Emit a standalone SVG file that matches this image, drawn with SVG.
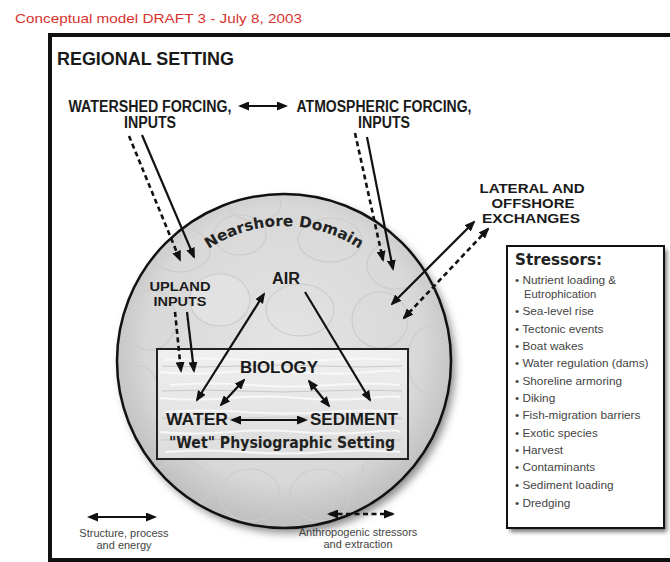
<svg xmlns="http://www.w3.org/2000/svg" width="670" height="562" viewBox="0 0 670 562">
<defs>
<style>
.lbl{font-family:"Liberation Sans",Arial,sans-serif;font-weight:bold;fill:#1a1a1a}
.sm{font-family:"Liberation Sans",Arial,sans-serif;font-size:11px;fill:#444}
.st{font-family:"Liberation Sans",Arial,sans-serif;font-size:11.8px;fill:#444}
.comic{font-family:"DejaVu Sans","Liberation Sans",sans-serif;font-weight:bold;fill:#222}
.ln{stroke:#111;stroke-width:2.2;fill:none}
.dash{stroke:#111;stroke-width:2.6;fill:none;stroke-dasharray:5 3.5}
</style>
<marker id="ah" viewBox="0 0 11 9" refX="9" refY="4.5" markerWidth="11" markerHeight="9" markerUnits="userSpaceOnUse" orient="auto-start-reverse">
<path d="M0,0 L11,4.5 L0,9 z" fill="#111"/>
</marker>
<radialGradient id="stone" cx="50%" cy="45%" r="55%">
<stop offset="0" stop-color="#e4e4e4"/>
<stop offset="0.75" stop-color="#d8d8d8"/>
<stop offset="1" stop-color="#bdbdbd"/>
</radialGradient>
<linearGradient id="wat" x1="0" y1="0" x2="0" y2="1">
<stop offset="0" stop-color="#f0f0f0"/>
<stop offset="1" stop-color="#dcdcdc"/>
</linearGradient>
<filter id="sh" x="-20%" y="-20%" width="140%" height="140%">
<feGaussianBlur stdDeviation="4"/>
</filter>
<filter id="sh2" x="-10%" y="-10%" width="130%" height="130%">
<feGaussianBlur stdDeviation="2"/>
</filter>
<clipPath id="cc"><circle cx="284" cy="361" r="167"/></clipPath>
<path id="arc" d="M 149,361 A 135,135 0 0 1 419,361"/>
</defs>

<rect width="670" height="562" fill="#fff"/>

<text x="15" y="23" font-family="Liberation Sans,Arial,sans-serif" font-size="13" fill="#d8322e" textLength="287" lengthAdjust="spacingAndGlyphs">Conceptual model DRAFT 3  -  July 8, 2003</text>

<g id="frame">
<rect x="50" y="35" width="640" height="525" fill="none" stroke="#111" stroke-width="4"/>
<text class="lbl" x="57" y="65" font-size="19" textLength="177" lengthAdjust="spacingAndGlyphs">REGIONAL SETTING</text>
</g>

<g id="nearshore">
<circle cx="288" cy="366" r="167" fill="#888" filter="url(#sh)"/>
<circle cx="284" cy="361" r="167" fill="url(#stone)"/>
<g clip-path="url(#cc)" fill="none" stroke="#cbcbcb" stroke-width="1.2">
<ellipse cx="180" cy="250" rx="30" ry="22"/>
<ellipse cx="240" cy="235" rx="26" ry="20"/>
<ellipse cx="330" cy="240" rx="32" ry="22"/>
<ellipse cx="395" cy="265" rx="28" ry="24"/>
<ellipse cx="150" cy="320" rx="26" ry="30"/>
<ellipse cx="220" cy="300" rx="30" ry="26" fill="#e2e2e2"/>
<ellipse cx="300" cy="310" rx="34" ry="26"/>
<ellipse cx="380" cy="320" rx="28" ry="28"/>
<ellipse cx="430" cy="360" rx="22" ry="34"/>
<ellipse cx="140" cy="400" rx="20" ry="34"/>
<ellipse cx="180" cy="485" rx="30" ry="24"/>
<ellipse cx="250" cy="495" rx="30" ry="26"/>
<ellipse cx="320" cy="495" rx="30" ry="26"/>
<ellipse cx="390" cy="475" rx="28" ry="26"/>
<ellipse cx="255" cy="205" rx="26" ry="16"/>
</g>
<circle cx="284" cy="361" r="167" fill="none" stroke="#111" stroke-width="2.5"/>
<text class="comic" font-size="15"><textPath href="#arc" startOffset="50%" text-anchor="middle" textLength="160" lengthAdjust="spacingAndGlyphs">Nearshore Domain</textPath></text>
<text class="lbl" x="180" y="291" font-size="12.5" text-anchor="middle" fill="#333" textLength="61" lengthAdjust="spacingAndGlyphs">UPLAND</text>
<text class="lbl" x="180" y="306" font-size="12.5" text-anchor="middle" fill="#333" textLength="53" lengthAdjust="spacingAndGlyphs">INPUTS</text>
</g>

<g id="wet">
<rect x="157" y="349" width="251" height="110" fill="url(#wat)" stroke="#222" stroke-width="2"/>
<g stroke="#fafafa" stroke-width="2" fill="none" opacity="0.9">
<path d="M165 360 q40 -3 80 0 t80 0 t75 0"/>
<path d="M160 372 q35 3 70 0 t70 0 t70 0 t28 0"/>
<path d="M170 385 q40 -3 80 0 t80 0 t70 0"/>
<path d="M160 398 q35 3 70 0 t70 0 t70 0 t28 0"/>
<path d="M165 412 q40 -3 80 0 t80 0 t75 0"/>
<path d="M160 432 q35 3 70 0 t70 0 t70 0 t28 0"/>
<path d="M165 452 q40 -3 80 0 t80 0 t75 0"/>
</g>
<g stroke="#c8c8c8" stroke-width="1" fill="none">
<path d="M162 366 q40 2 80 0 t80 0 t80 0"/>
<path d="M162 391 q40 -2 80 0 t80 0 t80 0"/>
<path d="M162 418 q40 2 80 0 t80 0 t80 0"/>
<path d="M162 440 q40 -2 80 0 t80 0 t80 0"/>
</g>
<text class="comic" x="282" y="448" font-size="15" text-anchor="middle" textLength="226" lengthAdjust="spacingAndGlyphs">"Wet" Physiographic Setting</text>
</g>

<g id="air"><text class="lbl" x="286" y="284" font-size="16" text-anchor="middle" textLength="28" lengthAdjust="spacingAndGlyphs">AIR</text></g>
<g id="biology"><text class="lbl" x="279" y="373" font-size="17" text-anchor="middle" textLength="78" lengthAdjust="spacingAndGlyphs">BIOLOGY</text></g>
<g id="water"><text class="lbl" x="197" y="425" font-size="17" text-anchor="middle" textLength="62" lengthAdjust="spacingAndGlyphs">WATER</text></g>
<g id="sediment"><text class="lbl" x="354" y="425" font-size="17" text-anchor="middle" textLength="88" lengthAdjust="spacingAndGlyphs">SEDIMENT</text></g>

<g id="watershed">
<text class="lbl" x="150" y="112" font-size="16" text-anchor="middle" textLength="163" lengthAdjust="spacingAndGlyphs">WATERSHED FORCING,</text>
<text class="lbl" x="150" y="128" font-size="16" text-anchor="middle" textLength="52" lengthAdjust="spacingAndGlyphs">INPUTS</text>
</g>
<g id="atmospheric">
<text class="lbl" x="384" y="112" font-size="16" text-anchor="middle" textLength="175" lengthAdjust="spacingAndGlyphs">ATMOSPHERIC FORCING,</text>
<text class="lbl" x="384" y="128" font-size="16" text-anchor="middle" textLength="52" lengthAdjust="spacingAndGlyphs">INPUTS</text>
</g>
<g id="lateral">
<text class="lbl" x="532" y="193" font-size="13.5" text-anchor="middle" textLength="105" lengthAdjust="spacingAndGlyphs">LATERAL AND</text>
<text class="lbl" x="533" y="208" font-size="13.5" text-anchor="middle" textLength="83" lengthAdjust="spacingAndGlyphs">OFFSHORE</text>
<text class="lbl" x="531" y="223" font-size="13.5" text-anchor="middle" textLength="98" lengthAdjust="spacingAndGlyphs">EXCHANGES</text>
</g>

<g id="stressors">
<rect x="510" y="250" width="157" height="282" fill="#777" filter="url(#sh2)"/>
<rect x="507" y="246" width="157" height="282" fill="#fff" stroke="#111" stroke-width="2"/>
<text class="comic" x="515" y="265" font-size="16" textLength="87" lengthAdjust="spacingAndGlyphs">Stressors:</text>
<g class="st">
<text x="515" y="284">• Nutrient loading &amp;</text>
<text x="524" y="298" font-size="11.3">Eutrophication</text>
<text x="515" y="315">• Sea-level rise</text>
<text x="515" y="333">• Tectonic events</text>
<text x="515" y="350">• Boat wakes</text>
<text x="515" y="367">• Water regulation (dams)</text>
<text x="515" y="385">• Shoreline armoring</text>
<text x="515" y="402">• Diking</text>
<text x="515" y="419">• Fish-migration barriers</text>
<text x="515" y="437">• Exotic species</text>
<text x="515" y="454">• Harvest</text>
<text x="515" y="471">• Contaminants</text>
<text x="515" y="489">• Sediment loading</text>
<text x="515" y="507">• Dredging</text>
</g>
</g>

<g id="legend">
<text class="sm" x="124" y="537" text-anchor="middle">Structure, process</text>
<text class="sm" x="124" y="549" text-anchor="middle">and energy</text>
<text class="sm" x="358" y="536" text-anchor="middle">Anthropogenic stressors</text>
<text class="sm" x="358" y="548" text-anchor="middle">and extraction</text>
</g>

<g id="connectors">
<line class="ln" x1="240" y1="106" x2="286" y2="106" marker-start="url(#ah)" marker-end="url(#ah)"/>
<line class="dash" x1="129" y1="136" x2="180" y2="260" marker-end="url(#ah)"/>
<line class="ln" x1="142" y1="135" x2="194" y2="257" marker-end="url(#ah)"/>
<line class="dash" x1="355" y1="133" x2="383" y2="260" marker-end="url(#ah)"/>
<line class="ln" x1="367" y1="137" x2="393" y2="269" marker-end="url(#ah)"/>
<line class="ln" x1="474" y1="222" x2="392" y2="304" marker-start="url(#ah)" marker-end="url(#ah)"/>
<line class="dash" x1="488" y1="229" x2="404" y2="318" marker-start="url(#ah)" marker-end="url(#ah)"/>
<line class="dash" x1="175" y1="312" x2="181" y2="371" marker-end="url(#ah)"/>
<line class="ln" x1="187" y1="312" x2="194" y2="371" marker-end="url(#ah)"/>
<line class="ln" x1="197" y1="400" x2="264" y2="294" marker-start="url(#ah)" marker-end="url(#ah)"/>
<line class="ln" x1="305" y1="292" x2="370" y2="400" marker-end="url(#ah)"/>
<line class="ln" x1="232" y1="420" x2="306" y2="420" marker-start="url(#ah)" marker-end="url(#ah)"/>
<line class="ln" x1="244" y1="380" x2="221" y2="405" marker-start="url(#ah)" marker-end="url(#ah)"/>
<line class="ln" x1="309" y1="381" x2="329" y2="406" marker-start="url(#ah)" marker-end="url(#ah)"/>
<line class="ln" x1="89" y1="517" x2="155" y2="517" marker-start="url(#ah)" marker-end="url(#ah)"/>
<line class="dash" x1="329" y1="514" x2="393" y2="514" marker-start="url(#ah)" marker-end="url(#ah)"/>
</g>
</svg>
